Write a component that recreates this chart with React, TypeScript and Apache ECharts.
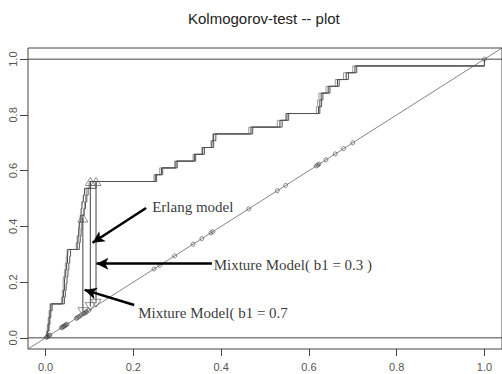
import React, { useEffect, useRef } from "react";
import * as echarts from "echarts";

const titleText = "Kolmogorov-test -- plot";
const xTicks = [0, 0.2, 0.4, 0.6, 0.8, 1.0];
const yTicks = [0, 0.2, 0.4, 0.6, 0.8, 1.0];

// sorted theoretical CDF values for each model (x of the ECDF steps)
const erlangU = [
  0.004, 0.006, 0.008, 0.010, 0.012, 0.039, 0.041, 0.043, 0.044, 0.046, 0.048, 0.050, 0.051,
  0.072, 0.074, 0.076, 0.077, 0.079, 0.081, 0.083, 0.086, 0.089, 0.102,
  0.250, 0.264, 0.297, 0.339, 0.358, 0.379, 0.383, 0.468, 0.534, 0.550, 0.622, 0.625, 0.628,
  0.644, 0.665, 0.685, 0.705, 1.0,
];
const mix03U = [
  0.005, 0.008, 0.010, 0.012, 0.015, 0.043, 0.045, 0.047, 0.049, 0.051, 0.053, 0.055, 0.057,
  0.077, 0.079, 0.081, 0.083, 0.085, 0.088, 0.091, 0.094, 0.097, 0.115,
  0.253, 0.267, 0.300, 0.342, 0.362, 0.383, 0.388, 0.472, 0.539, 0.554, 0.625, 0.629, 0.632,
  0.648, 0.669, 0.690, 0.709, 1.0,
];
const mix07U = [
  0.002, 0.004, 0.006, 0.008, 0.010, 0.036, 0.038, 0.040, 0.041, 0.043, 0.045, 0.047, 0.049,
  0.070, 0.072, 0.075, 0.078, 0.082, 0.087, 0.089, 0.091, 0.093, 0.099,
  0.247, 0.260, 0.294, 0.336, 0.356, 0.377, 0.381, 0.463, 0.528, 0.547, 0.617, 0.620, 0.623,
  0.639, 0.660, 0.679, 0.700, 1.0,
];

// maximum-distance segments (Mixture 0.7, Erlang, Mixture 0.3)
const ksX = [0.085, 0.102, 0.115];
const ksLow = [0.094, 0.112, 0.124];
const ksHigh = [0.43, 0.561, 0.561];

// annotations
const noteTexts = ["Erlang model", "Mixture Model( b1 = 0.3 )", "Mixture Model( b1 = 0.7"];
const notePos = [
  [0.243, 0.47],
  [0.383, 0.262],
  [0.211, 0.09],
];
const arrowFrom = [
  [0.229, 0.466],
  [0.379, 0.266],
  [0.202, 0.118],
];
const arrowTo = [
  [0.107, 0.341],
  [0.116, 0.266],
  [0.089, 0.172],
];

const ecdf = (u: number[]) => {
  const n = u.length;
  const pts: number[][] = [[u[0], 0]];
  u.forEach((v, i) => pts.push([v, (i + 1) / n]));
  return pts;
};

const stepSeries = (name: string, u: number[], color: string) => ({
  name,
  type: "line",
  step: "end",
  data: ecdf(u),
  showSymbol: false,
  lineStyle: { color, width: 1 },
  z: 3,
});

const fullLine = (data: number[][], color: string, width: number) => ({
  type: "line",
  data,
  showSymbol: false,
  lineStyle: { color, width },
  z: 2,
});

export default function App() {
  const ref = useRef<HTMLDivElement>(null);
  useEffect(() => {
    const chart = echarts.init(ref.current!, null, { renderer: "svg" });
    const option: any = {
      animation: false,
      backgroundColor: "#fff",
      title: {
        text: titleText,
        left: 183,
        top: 6,
        textStyle: { fontFamily: "Liberation Sans", fontSize: 15, fontWeight: "normal", color: "#222" },
      },
      grid: {
        left: 28,
        top: 48,
        width: 477,
        height: 301,
        show: true,
        borderColor: "#444",
        borderWidth: 1,
        backgroundColor: "transparent",
      },
      xAxis: {
        type: "value",
        min: -0.04,
        max: 1.04,
        axisLine: { show: false, onZero: false },
        splitLine: { show: false },
        axisTick: { show: true, customValues: xTicks, length: 7, lineStyle: { color: "#444" } },
        axisLabel: {
          customValues: xTicks,
          formatter: (v: number) => v.toFixed(1),
          margin: 12,
          fontFamily: "Liberation Sans",
          fontSize: 11,
          color: "#555",
        },
      },
      yAxis: {
        type: "value",
        min: -0.04,
        max: 1.04,
        axisLine: { show: false, onZero: false },
        splitLine: { show: false },
        axisTick: { show: true, customValues: yTicks, length: 8, lineStyle: { color: "#444" } },
        axisLabel: {
          customValues: yTicks,
          formatter: (v: number) => v.toFixed(1),
          rotate: 90,
          margin: 10,
          fontFamily: "Liberation Sans",
          fontSize: 11,
          color: "#555",
        },
      },
      series: [
        fullLine([[-0.04, 0], [1.04, 0]], "#444", 1),
        fullLine([[-0.04, 1], [1.04, 1]], "#444", 1),
        fullLine([[-0.04, -0.04], [1.04, 1.04]], "#666", 0.8),
        stepSeries("Mixture Model( b1 = 0.7 )", mix07U, "#9a9a9a"),
        stepSeries("Erlang model", erlangU, "#444"),
        stepSeries("Mixture Model( b1 = 0.3 )", mix03U, "#555"),
        {
          type: "scatter",
          data: mix07U.map((v) => [v, v]),
          symbol: "circle",
          symbolSize: 4,
          itemStyle: { color: "transparent", borderColor: "#444", borderWidth: 0.8 },
          z: 4,
        },
        {
          type: "custom",
          renderItem: (params: any, api: any) => {
            const i = params.dataIndex;
            const p1 = api.coord([ksX[i], ksLow[i]]);
            const p2 = api.coord([ksX[i], ksHigh[i]]);
            return {
              type: "line",
              shape: { x1: p1[0], y1: p1[1], x2: p2[0], y2: p2[1] },
              style: { stroke: "#444", lineWidth: 1 },
            };
          },
          data: ksX.map((x, i) => [x, ksLow[i], ksHigh[i]]),
          z: 4,
        },
        {
          type: "scatter",
          data: ksX.map((x, i) => [x, ksHigh[i]]),
          symbol: "triangle",
          symbolSize: [10, 8],
          itemStyle: { color: "transparent", borderColor: "#555", borderWidth: 0.8 },
          z: 5,
        },
        {
          type: "scatter",
          data: ksX.map((x, i) => [x, ksLow[i]]),
          symbol: "triangle",
          symbolRotate: 180,
          symbolSize: [10, 8],
          itemStyle: { color: "transparent", borderColor: "#555", borderWidth: 0.8 },
          z: 5,
        },
        {
          type: "scatter",
          data: notePos,
          symbolSize: 0,
          silent: true,
          label: {
            show: true,
            position: "right",
            distance: 0,
            formatter: (p: any) => noteTexts[p.dataIndex],
            fontFamily: "Liberation Serif",
            fontSize: 15,
            color: "#000",
          },
          markLine: {
            silent: true,
            symbol: ["none", "arrow"],
            symbolSize: [9, 12],
            label: { show: false },
            lineStyle: { color: "#000", width: 2.5, type: "solid" },
            data: arrowFrom.map((f, i) => [{ coord: f }, { coord: arrowTo[i] }]),
          },
          z: 6,
        },
      ],
    };
    chart.setOption(option);
    return () => chart.dispose();
  }, []);
  return (
    <div
      ref={ref}
      style={{ position: "fixed", left: 0, top: 0, width: 502, height: 374, background: "#fff" }}
    />
  );
}
